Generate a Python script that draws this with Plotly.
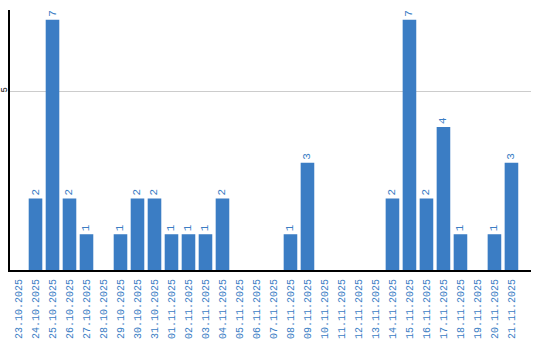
import plotly.graph_objects as go

dates = ["23.10.2025", "24.10.2025", "25.10.2025", "26.10.2025", "27.10.2025", "28.10.2025",
         "29.10.2025", "30.10.2025", "31.10.2025", "01.11.2025", "02.11.2025", "03.11.2025",
         "04.11.2025", "05.11.2025", "06.11.2025", "07.11.2025", "08.11.2025", "09.11.2025",
         "10.11.2025", "11.11.2025", "12.11.2025", "13.11.2025", "14.11.2025", "15.11.2025",
         "16.11.2025", "17.11.2025", "18.11.2025", "19.11.2025", "20.11.2025", "21.11.2025"]
counts = [0, 2, 7, 2, 1, 0, 1, 2, 2, 1, 1, 1, 2, 0, 0, 0, 1, 3, 0, 0, 0, 0, 2, 7, 2, 4, 1, 0, 1, 3]
labels = [str(v) if v > 0 else "" for v in counts]

blue = "#3b7dc4"
mono = "Liberation Mono"
fig = go.Figure(go.Bar(
    x=dates, y=counts, text=labels, textposition="outside", textangle=-90,
    textfont=dict(family=mono, size=11, color=blue),
    marker=dict(color=blue, line=dict(width=0)), width=0.8, cliponaxis=False,
))
fig.update_layout(
    width=540, height=340, margin=dict(l=10, r=9, t=10, b=70),
    plot_bgcolor="white", paper_bgcolor="white", showlegend=False,
    font=dict(family=mono, size=10, color=blue),
    xaxis=dict(type="category", range=[-0.5, 30.15], tickangle=-90, showline=True,
               linecolor="black", linewidth=2, showgrid=False, ticks="", automargin=False,
               ticklabelstandoff=3,
               tickfont=dict(family=mono, size=10, color=blue)),
    yaxis=dict(range=[0, 7.27], tickvals=[5], ticktext=["5"], tickangle=-90, showline=True,
               linecolor="black", linewidth=2, showgrid=True, gridcolor="#cccccc", gridwidth=1,
               zeroline=False, ticks="", automargin=False, ticklabelstandoff=-3,
               tickfont=dict(family=mono, size=9, color="black")),
)
fig.write_html("out.html")
